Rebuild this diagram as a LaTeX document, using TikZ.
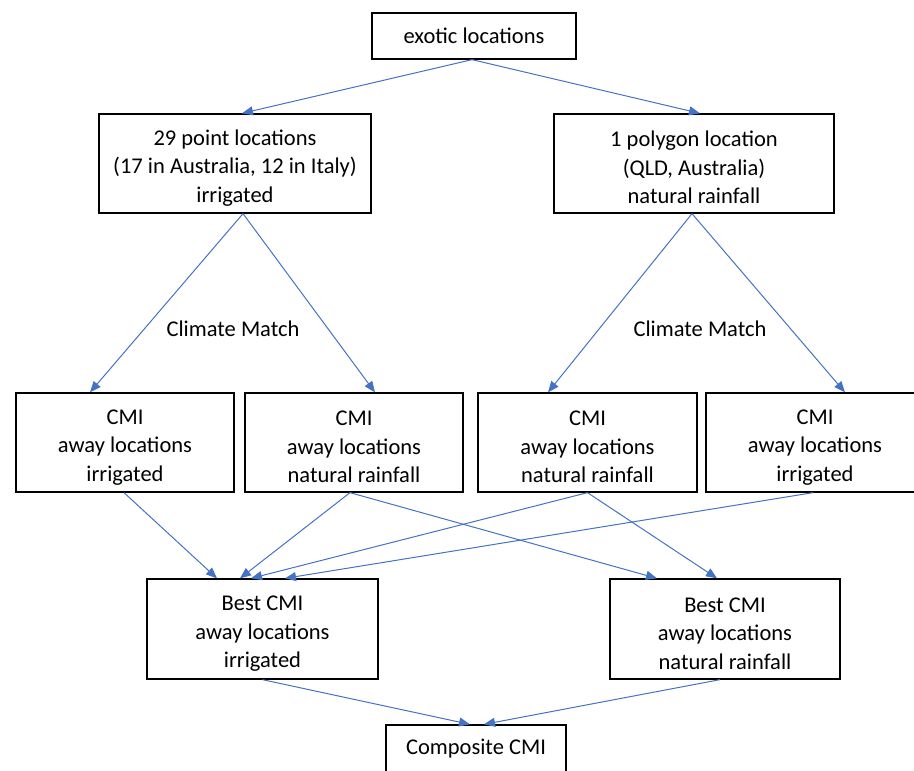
\documentclass[tikz,border=0pt]{standalone}
\usepackage{fontspec}
\setmainfont{Carlito}
\usepackage{xcolor}
\usetikzlibrary{arrows.meta}
\definecolor{linkblue}{HTML}{4472C4}
\newcommand{\lowstrut}{\rule{0pt}{24pt}}

\begin{document}
\begin{tikzpicture}[x=1pt, y=-1pt, >={Triangle[length=11pt,width=9pt]},
  box/.style={draw, line width=1.3pt, align=center, inner sep=0pt,
    font=\fontsize{22.5}{28.5}\selectfont},
  link/.style={->, linkblue, line width=1pt},
  lbl/.style={font=\fontsize{22.5}{28.5}\selectfont}]
  \useasboundingbox (0,0) rectangle (914,771);
  \clip (0,0) rectangle (914,771);

  % --- top: the exotic locations and their two kinds ---
  \node[box, minimum width=204pt, minimum height=46pt] (exotic) at (474,36)
       {exotic locations};
  \node[box, minimum width=272pt, minimum height=99pt] (pointloc) at (235,163.5)
       {\lowstrut 29 point locations\\(17 in Australia, 12 in Italy)\\irrigated};
  \node[box, minimum width=280pt, minimum height=99pt] (polyloc) at (694,163.5)
       {\lowstrut 1 polygon location\\(QLD, Australia)\\natural rainfall};

  \node[lbl] (matchA) at (233,329) {Climate Match};
  \node[lbl] (matchB) at (700,329) {Climate Match};

  % --- climate match results ---
  \node[box, minimum width=218pt, minimum height=99pt] (cmiA) at (125,442.5)
       {\lowstrut CMI\\away locations\\irrigated};
  \node[box, minimum width=218pt, minimum height=99pt] (cmiB) at (354,442.5)
       {\lowstrut CMI\\away locations\\natural rainfall};
  \node[box, minimum width=219pt, minimum height=99pt] (cmiC) at (587.5,442.5)
       {\lowstrut CMI\\away locations\\natural rainfall};
  \node[box, minimum width=218pt, minimum height=99pt] (cmiD) at (815,442.5)
       {\lowstrut CMI\\away locations\\irrigated};

  % --- best of each, then the composite ---
  \node[box, minimum width=231pt, minimum height=100pt] (bestA) at (262.5,629)
       {\lowstrut Best CMI\\away locations\\irrigated};
  \node[box, minimum width=230pt, minimum height=100pt] (bestB) at (725,629)
       {\lowstrut Best CMI\\away locations\\natural rainfall};
  \node[box, minimum width=180pt, minimum height=48pt] (composite) at (476,749)
       {Composite CMI};

  % --- connectors ---
  \draw[link] ([xshift=-2pt]exotic.south) -- ([xshift=7pt]pointloc.north);
  \draw[link] ([xshift=-2pt]exotic.south) -- ([xshift=6pt]polyloc.north);

  \draw[link] ([xshift=8pt]pointloc.south) -- ([xshift=-35pt]cmiA.north);
  \draw[link] ([xshift=8pt]pointloc.south) -- ([xshift=21pt]cmiB.north);
  \draw[link] ([xshift=-2pt]polyloc.south) -- ([xshift=-39.5pt]cmiC.north);
  \draw[link] ([xshift=-2pt]polyloc.south) -- ([xshift=30pt]cmiD.north);

  \draw[link] ([xshift=-1pt]cmiA.south) -- ([xshift=-45.5pt]bestA.north);
  \draw[link] ([xshift=-4pt]cmiB.south) -- ([xshift=-22.5pt]bestA.north);
  \draw[link] ([xshift=-4pt]cmiB.south) -- ([xshift=-68pt]bestB.north);
  \draw[link] (cmiC.south) -- ([xshift=-11.5pt]bestA.north);
  \draw[link] (cmiC.south) -- ([xshift=-8pt]bestB.north);
  \draw[link] ([xshift=-2pt]cmiD.south) -- ([xshift=22.5pt]bestA.north);

  \draw[link] (bestA.south) -- ([xshift=-6pt]composite.north);
  \draw[link] ([xshift=-5pt]bestB.south) -- ([xshift=8pt]composite.north);
\end{tikzpicture}
\end{document}
